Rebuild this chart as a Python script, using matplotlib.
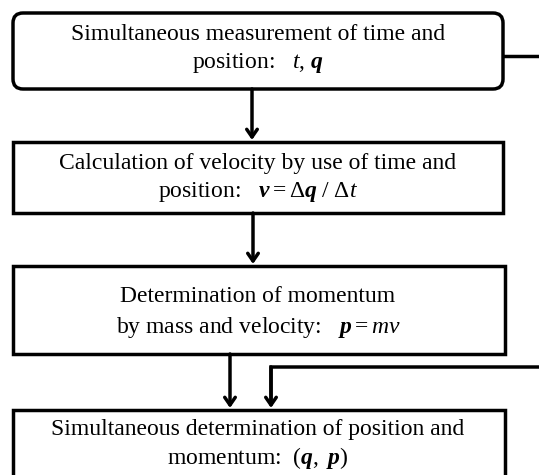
import matplotlib
matplotlib.use("Agg")
import matplotlib.pyplot as plt
from matplotlib.patches import FancyBboxPatch

plt.rcParams['font.family'] = ['Liberation Serif', 'DejaVu Serif']
plt.rcParams['mathtext.fontset'] = 'custom'
plt.rcParams['mathtext.rm'] = 'Liberation Serif'
plt.rcParams['mathtext.it'] = 'Liberation Serif:italic'
plt.rcParams['mathtext.bf'] = 'Liberation Serif:bold'
plt.rcParams['mathtext.bfit'] = 'Liberation Serif:bold:italic'

# step texts (two lines each)
steps = [
    ["Simultaneous measurement of time and", r"position:   $t$, $\mathbfit{q}$"],
    ["Calculation of velocity by use of time and", r"position:   $\mathbfit{v} = \Delta \mathbfit{q}\ /\ \Delta t$"],
    ["Determination of momentum", r"by mass and velocity:   $\mathbfit{p} = m\mathit{v}$"],
    ["Simultaneous determination of position and", r"momentum:  $(\mathbfit{q},\ \mathbfit{p})$"],
]
rounded = [True, False, False, False]

# box layout in pixels (x0, y0, x1, y1), y downwards
boxes = [(13, 13, 503, 89), (13, 142, 503, 213), (13, 266, 505, 354), (13, 410, 505, 490)]

fig = plt.figure(figsize=(5.39, 4.75), dpi=100)
ax = fig.add_axes([0, 0, 1, 1])
ax.set_xlim(0, 539)
ax.set_ylim(475, 0)
ax.axis('off')

lw = 2.5
for (x0, y0, x1, y1), txt, rnd in zip(boxes, steps, rounded):
    style = "round,pad=0,rounding_size=10" if rnd else "square,pad=0"
    ax.add_patch(FancyBboxPatch((x0, y0), x1 - x0, y1 - y0, boxstyle=style,
                                fc='white', ec='black', lw=lw, zorder=2))

text_y = [(35, 63), (164, 192), (297, 327), (430, 458)]
for (ya, yb), txt in zip(text_y, steps):
    ax.text(258, ya, txt[0], ha='center', va='center', fontsize=17, zorder=3)
    ax.text(258, yb, txt[1], ha='center', va='center', fontsize=17, zorder=3)

arrow = dict(arrowstyle='->,head_length=0.55,head_width=0.38', lw=lw, color='black',
             shrinkA=0, shrinkB=0)
ax.annotate('', xy=(252, 140), xytext=(252, 89), arrowprops=arrow)
ax.annotate('', xy=(253, 264), xytext=(253, 213), arrowprops=arrow)
ax.annotate('', xy=(230, 408), xytext=(230, 354), arrowprops=arrow)

# feedback line from first box to last box
ax.plot([503, 539], [56, 56], color='black', lw=lw, solid_capstyle='butt')
ax.plot([540, 271, 271], [367, 367, 400], color='black', lw=lw,
        solid_joinstyle='miter', solid_capstyle='butt', snap=False)
ax.annotate('', xy=(271, 408), xytext=(271, 367), arrowprops=dict(arrow, snap=False))

fig.savefig('out.png', dpi=100)
